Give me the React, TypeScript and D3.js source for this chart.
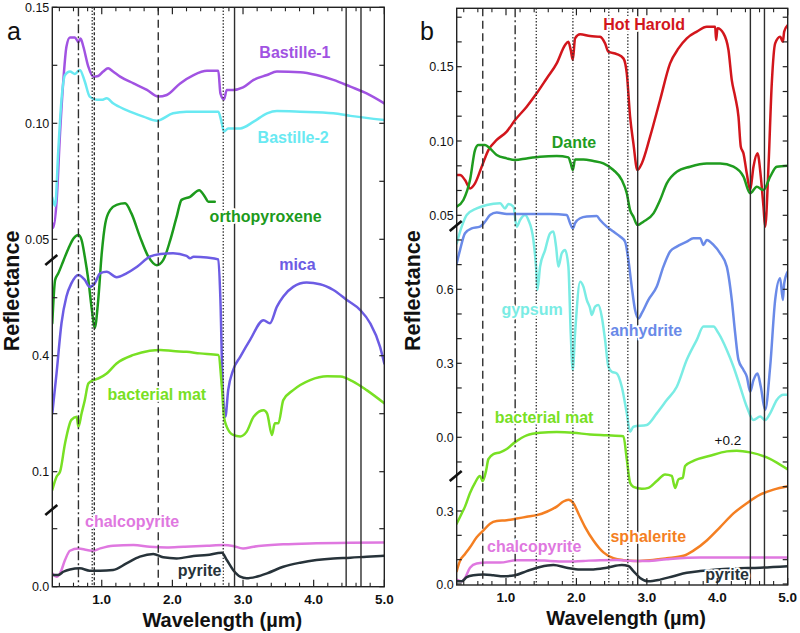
import * as d3 from "d3";

type Pt = [number, number];
type SegKey = "top" | "mid" | "bot";

// ---- axis values -------------------------------------------------------
const WAVE_DOMAIN: [number, number] = [0.3, 5.0];
const xMajorTicks = [1, 2, 3, 4, 5];
const xMinorTicks = [0.4, 0.6, 0.8, 1.2, 1.4, 1.6, 1.8, 2.2, 2.4, 2.6, 2.8, 3.2, 3.4, 3.6, 3.8, 4.2, 4.4, 4.6, 4.8];
const xTickLabels = ["1.0", "2.0", "3.0", "4.0", "5.0"];

// panel a: broken reflectance axis, three stacked segments
const aTopTicks = [0.05, 0.075, 0.1, 0.125, 0.15];
const aTopLabels = [0.05, 0.1, 0.15];
const aMidTicks = [0.1, 0.25, 0.4, 0.55];
const aMidLabels = [0.1, 0.4];
const aBotTicks = [0, 0.05];
const aBotLabels = [0];

// panel b
const bTopTicks = [0.05, 0.0667, 0.0833, 0.1, 0.1167, 0.1333, 0.15, 0.1667, 0.1833];
const bTopLabels = [0.05, 0.1, 0.15];
const bMidTicks = [-0.1, 0, 0.1, 0.2, 0.3, 0.4, 0.5, 0.6, 0.7, 0.8];
const bMidLabels = [0, 0.3, 0.6];
const bBotTicks = [0, 0.1, 0.2, 0.3, 0.4];
const bBotLabels = [0, 0.3];

// absorption features (µm)
const refLinesA: { w: number; kind: string }[] = [
  { w: 0.67, kind: "dashdot" },
  { w: 0.865, kind: "dotted" },
  { w: 0.895, kind: "short" },
  { w: 1.8, kind: "dashed" },
  { w: 2.72, kind: "dotted" },
  { w: 2.88, kind: "solid" },
  { w: 4.46, kind: "solid" },
  { w: 4.67, kind: "solid" },
];
const refLinesB: { w: number; kind: string }[] = [
  { w: 0.67, kind: "dashed" },
  { w: 1.13, kind: "dashdot" },
  { w: 1.43, kind: "dotted" },
  { w: 1.95, kind: "dotted" },
  { w: 2.46, kind: "dotted" },
  { w: 2.73, kind: "dotted" },
  { w: 2.87, kind: "solid" },
  { w: 4.47, kind: "solid" },
  { w: 4.67, kind: "solid" },
];

// ---- spectra: [wavelength µm, reflectance] ------------------------------
const bastille1: Pt[] = [[0.30,0.057],[0.315,0.055],[0.36,0.066],[0.41,0.096],[0.46,0.120],[0.50,0.133],[0.55,0.137],[0.62,0.137],[0.67,0.135],[0.70,0.1366],[0.74,0.133],[0.81,0.1244],[0.88,0.1201],[0.95,0.1204],[1.02,0.1223],[1.09,0.1237],[1.16,0.1223],[1.26,0.1201],[1.45,0.1172],[1.64,0.1144],[1.80,0.1115],[1.92,0.1122],[2.11,0.1172],[2.30,0.1208],[2.49,0.1226],[2.65,0.1226],[2.68,0.1129],[2.73,0.1103],[2.77,0.1144],[2.86,0.1144],[3.00,0.1155],[3.15,0.1187],[3.34,0.1208],[3.48,0.1223],[3.81,0.1220],[4.04,0.1208],[4.28,0.1187],[4.52,0.1158],[4.75,0.1129],[5.00,0.1086]];
const bastille2: Pt[] = [[0.30,0.068],[0.34,0.0644],[0.385,0.0885],[0.43,0.1101],[0.48,0.1208],[0.55,0.1223],[0.62,0.1213],[0.69,0.1230],[0.76,0.1180],[0.83,0.1115],[0.93,0.1101],[1.00,0.1101],[1.07,0.1108],[1.16,0.1086],[1.35,0.1057],[1.59,0.1029],[1.78,0.1011],[2.01,0.1043],[2.20,0.1050],[2.49,0.1050],[2.65,0.1050],[2.70,0.1000],[2.73,0.0964],[2.79,0.0978],[2.96,0.0978],[3.15,0.1007],[3.34,0.1043],[3.48,0.1053],[3.81,0.1050],[4.28,0.1043],[4.52,0.1032],[5.00,0.1014]];
const orthopyroxene: Pt[] = [[0.30,0.484],[0.34,0.596],[0.385,0.613],[0.46,0.647],[0.53,0.678],[0.60,0.703],[0.67,0.712],[0.715,0.699],[0.76,0.656],[0.81,0.596],[0.86,0.519],[0.90,0.471],[0.95,0.544],[1.00,0.665],[1.05,0.742],[1.12,0.777],[1.21,0.790],[1.33,0.794],[1.42,0.768],[1.54,0.708],[1.66,0.656],[1.78,0.634],[1.87,0.647],[1.97,0.699],[2.06,0.759],[2.13,0.803],[2.25,0.811],[2.38,0.828],[2.46,0.811],[2.51,0.798],[2.60,0.798]];
const mica: Pt[] = [[0.30,0.251],[0.36,0.354],[0.43,0.484],[0.50,0.553],[0.57,0.587],[0.67,0.609],[0.76,0.596],[0.83,0.578],[0.90,0.587],[0.975,0.613],[1.07,0.617],[1.21,0.603],[1.35,0.613],[1.50,0.630],[1.68,0.656],[1.83,0.663],[2.01,0.665],[2.20,0.658],[2.25,0.652],[2.30,0.656],[2.49,0.654],[2.65,0.649],[2.68,0.544],[2.71,0.328],[2.75,0.242],[2.79,0.311],[2.86,0.363],[2.96,0.397],[3.10,0.441],[3.29,0.492],[3.38,0.484],[3.48,0.527],[3.57,0.553],[3.71,0.578],[3.90,0.589],[4.09,0.585],[4.28,0.570],[4.47,0.544],[4.66,0.518],[4.80,0.484],[4.94,0.423],[5.00,0.380]];
const bacterialMatA: Pt[] = [[0.30,0.053],[0.36,0.087],[0.41,0.100],[0.48,0.173],[0.57,0.234],[0.645,0.242],[0.67,0.216],[0.715,0.251],[0.76,0.285],[0.81,0.328],[0.88,0.337],[0.95,0.341],[1.07,0.354],[1.21,0.380],[1.45,0.402],[1.68,0.413],[1.83,0.415],[2.01,0.412],[2.20,0.410],[2.39,0.406],[2.65,0.402],[2.70,0.320],[2.73,0.242],[2.77,0.216],[2.86,0.195],[2.96,0.191],[3.05,0.203],[3.15,0.242],[3.29,0.259],[3.34,0.251],[3.41,0.195],[3.45,0.225],[3.50,0.225],[3.57,0.285],[3.71,0.311],[3.95,0.337],[4.19,0.347],[4.38,0.346],[4.56,0.333],[4.75,0.311],[5.00,0.277]];
const chalcopyriteA: Pt[] = [[0.30,0.0115],[0.36,0.0086],[0.41,0.0115],[0.48,0.0230],[0.55,0.0310],[0.67,0.0330],[0.79,0.0316],[0.88,0.0310],[0.98,0.0330],[1.16,0.0353],[1.45,0.0359],[1.68,0.0345],[1.92,0.0339],[2.16,0.0345],[2.49,0.0353],[2.72,0.0359],[2.86,0.0351],[3.00,0.0330],[3.15,0.0345],[3.57,0.0365],[4.04,0.0374],[4.52,0.0379],[5.00,0.0382]];
const pyriteA: Pt[] = [[0.30,0.0101],[0.385,0.0101],[0.456,0.0129],[0.55,0.0149],[0.69,0.0158],[0.83,0.0138],[0.975,0.0138],[1.16,0.0144],[1.35,0.0201],[1.54,0.0259],[1.73,0.0282],[1.87,0.0253],[2.06,0.0244],[2.30,0.0264],[2.49,0.0273],[2.70,0.0293],[2.77,0.0230],[2.86,0.0144],[2.96,0.0086],[3.05,0.0072],[3.19,0.0086],[3.34,0.0115],[3.57,0.0172],[3.81,0.0207],[4.04,0.0230],[4.28,0.0244],[4.52,0.0250],[4.75,0.0259],[5.00,0.0267]];

const hotHarold: Pt[] = [[0.30,0.0771],[0.347,0.0771],[0.418,0.0737],[0.489,0.0681],[0.56,0.0715],[0.655,0.0827],[0.75,0.0939],[0.868,0.1007],[1.01,0.1063],[1.129,0.1141],[1.294,0.1231],[1.436,0.1321],[1.578,0.1421],[1.72,0.1522],[1.839,0.1646],[1.886,0.1668],[1.919,0.1612],[1.948,0.1545],[1.981,0.1691],[2.052,0.1718],[2.194,0.1706],[2.336,0.1702],[2.407,0.1657],[2.454,0.1601],[2.573,0.1585],[2.667,0.1556],[2.715,0.1455],[2.762,0.1164],[2.809,0.0984],[2.866,0.0805],[2.928,0.0849],[3.046,0.1029],[3.188,0.1276],[3.33,0.1522],[3.449,0.1623],[3.567,0.1691],[3.709,0.1736],[3.851,0.1769],[3.97,0.1769],[3.984,0.1679],[4.003,0.1758],[4.088,0.1724],[4.159,0.1612],[4.206,0.1410],[4.254,0.1298],[4.301,0.1164],[4.334,0.0962],[4.372,0.0917],[4.419,0.0782],[4.467,0.0670],[4.514,0.0827],[4.571,0.0917],[4.618,0.0760],[4.656,0.0558],[4.68,0.0423],[4.727,0.0827],[4.774,0.1388],[4.822,0.1657],[4.893,0.1702],[4.931,0.1668],[4.95,0.1736],[5.0,0.1780]];
const dante: Pt[] = [[0.30,0.0558],[0.395,0.0603],[0.489,0.0737],[0.56,0.0939],[0.608,0.0973],[0.702,0.0973],[0.773,0.0950],[0.868,0.0906],[1.01,0.0883],[1.129,0.0872],[1.294,0.0883],[1.484,0.0894],[1.72,0.0899],[1.886,0.0890],[1.919,0.0849],[1.948,0.0805],[1.981,0.0876],[2.099,0.0876],[2.241,0.0865],[2.383,0.0849],[2.525,0.0805],[2.644,0.0737],[2.715,0.0648],[2.762,0.0535],[2.809,0.0491],[2.866,0.0434],[2.951,0.0457],[3.094,0.0513],[3.188,0.0603],[3.283,0.0715],[3.425,0.0793],[3.614,0.0827],[3.851,0.0849],[4.041,0.0849],[4.23,0.0827],[4.372,0.0760],[4.467,0.0648],[4.561,0.0692],[4.656,0.0670],[4.751,0.0760],[4.845,0.0827],[5.0,0.0834]];
const gypsum: Pt[] = [[0.30,0.786],[0.371,0.854],[0.442,0.901],[0.584,0.928],[0.726,0.942],[0.916,0.949],[0.987,0.928],[1.034,0.946],[1.105,0.935],[1.152,0.854],[1.20,0.881],[1.271,0.901],[1.318,0.881],[1.389,0.80],[1.436,0.651],[1.446,0.597],[1.484,0.692],[1.555,0.759],[1.626,0.827],[1.673,0.834],[1.711,0.773],[1.744,0.692],[1.792,0.746],[1.839,0.759],[1.886,0.692],[1.919,0.422],[1.948,0.273],[1.981,0.422],[2.052,0.631],[2.099,0.611],[2.147,0.557],[2.194,0.523],[2.218,0.496],[2.265,0.530],[2.312,0.536],[2.36,0.489],[2.407,0.395],[2.454,0.286],[2.502,0.266],[2.573,0.259],[2.644,0.205],[2.715,0.097],[2.762,0.023],[2.809,0.043],[2.999,0.050],[3.141,0.097],[3.283,0.151],[3.425,0.205],[3.567,0.314],[3.709,0.395],[3.804,0.449],[3.946,0.449],[4.017,0.422],[4.135,0.354],[4.23,0.286],[4.325,0.205],[4.419,0.124],[4.514,0.070],[4.609,0.084],[4.68,0.070],[4.751,0.097],[4.845,0.151],[4.94,0.172],[5.0,0.172]];
const anhydrite: Pt[] = [[0.30,0.705],[0.347,0.759],[0.418,0.827],[0.513,0.847],[0.631,0.854],[0.702,0.874],[0.773,0.901],[0.868,0.911],[1.01,0.905],[1.152,0.905],[1.389,0.905],[1.626,0.905],[1.863,0.901],[1.91,0.868],[1.948,0.847],[1.981,0.868],[2.052,0.888],[2.147,0.895],[2.289,0.897],[2.336,0.881],[2.431,0.854],[2.525,0.834],[2.62,0.814],[2.691,0.793],[2.738,0.719],[2.785,0.611],[2.833,0.516],[2.88,0.482],[2.928,0.503],[3.022,0.557],[3.141,0.611],[3.235,0.692],[3.33,0.753],[3.425,0.773],[3.567,0.793],[3.661,0.807],[3.756,0.807],[3.804,0.780],[3.851,0.800],[3.946,0.780],[4.041,0.746],[4.135,0.692],[4.206,0.557],[4.254,0.422],[4.301,0.314],[4.372,0.273],[4.419,0.246],[4.467,0.185],[4.514,0.232],[4.571,0.259],[4.618,0.205],[4.68,0.111],[4.751,0.286],[4.822,0.557],[4.893,0.645],[4.931,0.557],[4.95,0.624],[5.0,0.672]];
// shown with +0.2 offset
const bacterialMatB: Pt[] = [[0.30,0.248],[0.371,0.290],[0.418,0.318],[0.489,0.374],[0.56,0.416],[0.631,0.444],[0.669,0.423],[0.716,0.464],[0.75,0.513],[0.821,0.534],[0.916,0.541],[1.01,0.555],[1.129,0.583],[1.294,0.611],[1.484,0.622],[1.72,0.625],[1.957,0.622],[2.194,0.614],[2.431,0.611],[2.667,0.607],[2.715,0.513],[2.762,0.416],[2.809,0.399],[2.928,0.391],[3.022,0.395],[3.141,0.423],[3.259,0.450],[3.354,0.444],[3.401,0.395],[3.449,0.430],[3.51,0.437],[3.543,0.485],[3.661,0.506],[3.898,0.527],[4.135,0.545],[4.277,0.548],[4.467,0.541],[4.703,0.520],[4.845,0.499],[5.0,0.471]];
const sphalerite: Pt[] = [[0.30,0.053],[0.347,0.095],[0.418,0.123],[0.489,0.151],[0.584,0.192],[0.679,0.220],[0.773,0.248],[0.868,0.259],[1.01,0.262],[1.152,0.269],[1.294,0.276],[1.436,0.283],[1.578,0.297],[1.72,0.318],[1.815,0.339],[1.886,0.346],[1.957,0.332],[2.028,0.290],[2.123,0.234],[2.241,0.179],[2.383,0.130],[2.525,0.106],[2.667,0.098],[2.857,0.095],[3.046,0.098],[3.283,0.106],[3.52,0.116],[3.661,0.137],[3.851,0.179],[4.041,0.234],[4.23,0.290],[4.419,0.332],[4.608,0.367],[4.798,0.388],[5.0,0.402]];
const chalcopyriteB: Pt[] = [[0.30,0.018],[0.371,0.011],[0.418,0.025],[0.489,0.067],[0.584,0.084],[0.726,0.088],[0.916,0.088],[1.152,0.098],[1.389,0.098],[1.626,0.095],[1.863,0.092],[2.099,0.095],[2.336,0.098],[2.573,0.099],[2.809,0.095],[2.999,0.095],[3.283,0.102],[3.756,0.109],[4.23,0.109],[5.0,0.109]];
const pyriteB: Pt[] = [[0.30,0.011],[0.371,0.011],[0.442,0.028],[0.537,0.036],[0.679,0.039],[0.821,0.036],[0.963,0.032],[1.129,0.036],[1.294,0.053],[1.484,0.070],[1.673,0.078],[1.863,0.067],[2.052,0.060],[2.241,0.060],[2.431,0.067],[2.644,0.078],[2.738,0.074],[2.809,0.053],[2.904,0.025],[3.022,0.011],[3.188,0.018],[3.377,0.032],[3.567,0.046],[3.756,0.053],[3.993,0.060],[4.23,0.064],[4.608,0.067],[5.0,0.073]];

interface Series {
  name: string;
  color: string;
  seg: SegKey;
  pts: Pt[];
  label: { w: number; v: number; seg: SegKey };
}

const seriesA: Series[] = [
  { name: "Bastille-1", color: "#a153e2", seg: "top", pts: bastille1, label: { w: 3.735, v: 0.1281, seg: "top" } },
  { name: "Bastille-2", color: "#69e9f2", seg: "top", pts: bastille2, label: { w: 3.71, v: 0.0915, seg: "top" } },
  { name: "orthopyroxene", color: "#1c9a1c", seg: "mid", pts: orthopyroxene, label: { w: 3.32, v: 0.7457, seg: "mid" } },
  { name: "mica", color: "#6c5ce4", seg: "mid", pts: mica, label: { w: 3.77, v: 0.6216, seg: "mid" } },
  { name: "bacterial mat", color: "#78e024", seg: "mid", pts: bacterialMatA, label: { w: 1.78, v: 0.2854, seg: "mid" } },
  { name: "chalcopyrite", color: "#df78e0", seg: "bot", pts: chalcopyriteA, label: { w: 1.43, v: 0.0515, seg: "bot" } },
  { name: "pyrite", color: "#27333a", seg: "bot", pts: pyriteA, label: { w: 2.385, v: 0.0092, seg: "bot" } },
];

const seriesB: Series[] = [
  { name: "Hot Harold", color: "#d2161c", seg: "top", pts: hotHarold, label: { w: 2.96, v: 0.1747, seg: "top" } },
  { name: "Dante", color: "#1f9c1f", seg: "top", pts: dante, label: { w: 1.966, v: 0.0953, seg: "top" } },
  { name: "gypsum", color: "#7aece4", seg: "mid", pts: gypsum, label: { w: 1.37, v: 0.4957, seg: "mid" } },
  { name: "anhydrite", color: "#6a8ae8", seg: "mid", pts: anhydrite, label: { w: 2.99, v: 0.4106, seg: "mid" } },
  { name: "bacterial mat", color: "#78e024", seg: "bot", pts: bacterialMatB, label: { w: 1.54, v: 0.66, seg: "bot" } },
  { name: "sphalerite", color: "#f47f22", seg: "bot", pts: sphalerite, label: { w: 3.02, v: 0.174, seg: "bot" } },
  { name: "chalcopyrite", color: "#df78e0", seg: "bot", pts: chalcopyriteB, label: { w: 1.40, v: 0.1326, seg: "bot" } },
  { name: "pyrite", color: "#27333a", seg: "bot", pts: pyriteB, label: { w: 4.14, v: 0.0155, seg: "bot" } },
];

const offsetNote = { text: "+0.2", w: 4.15, v: 0.572, seg: "bot" as SegKey };

// ---- layout -------------------------------------------------------------
const FONT = "'Liberation Sans', Arial, Helvetica, sans-serif";

interface SegCfg {
  domain: [number, number];
  range: [number, number];
  ticks: number[];
  labels: number[];
  fmt: string;
}

interface PanelCfg {
  id: string;
  letter: string;
  letterX: number;
  titleX: number;
  left: number;
  right: number;
  top: number;
  bottom: number;
  breaks: number[];
  segs: Record<SegKey, SegCfg>;
  series: Series[];
  refs: { w: number; kind: string }[];
}

const panels: PanelCfg[] = [
  {
    id: "a",
    letter: "a",
    letterX: 7,
    titleX: 19,
    left: 52.3,
    right: 384.3,
    top: 7.3,
    bottom: 586.7,
    breaks: [260, 510],
    segs: {
      top: { domain: [0.05, 0.15], range: [239.3, 7.3], ticks: aTopTicks, labels: aTopLabels, fmt: ".2f" },
      mid: { domain: [0.1, 0.4], range: [471.7, 355.7], ticks: aMidTicks, labels: aMidLabels, fmt: ".1f" },
      bot: { domain: [0, 0.1], range: [586.7, 470.7], ticks: aBotTicks, labels: aBotLabels, fmt: ".1f" },
    },
    series: seriesA,
    refs: refLinesA,
  },
  {
    id: "b",
    letter: "b",
    letterX: 420,
    titleX: 420,
    left: 456.7,
    right: 787.7,
    top: 8.3,
    bottom: 585,
    breaks: [226, 476],
    segs: {
      top: { domain: [0.1, 0.15], range: [141, 66.7], ticks: bTopTicks, labels: bTopLabels, fmt: ".2f" },
      mid: { domain: [0, 0.6], range: [437.3, 289.3], ticks: bMidTicks, labels: bMidLabels, fmt: ".1f" },
      bot: { domain: [0, 0.3], range: [584, 511], ticks: bBotTicks, labels: bBotLabels, fmt: ".1f" },
    },
    series: seriesB,
    refs: refLinesB,
  },
];

const DASH: Record<string, string | undefined> = {
  solid: undefined,
  dashed: "8,4.5",
  dashdot: "9,3,2,3",
  dotted: "1.4,1.8",
  short: "3,2",
};

function Panel({ cfg }: { cfg: PanelCfg }) {
  const x = d3.scaleLinear().domain(WAVE_DOMAIN).range([cfg.left, cfg.right]);
  const ys: Record<SegKey, d3.ScaleLinear<number, number>> = {
    top: d3.scaleLinear().domain(cfg.segs.top.domain).range(cfg.segs.top.range),
    mid: d3.scaleLinear().domain(cfg.segs.mid.domain).range(cfg.segs.mid.range),
    bot: d3.scaleLinear().domain(cfg.segs.bot.domain).range(cfg.segs.bot.range),
  };
  const clipId = `clip-${cfg.id}`;
  const keys: SegKey[] = ["top", "mid", "bot"];
  const midX = (cfg.left + cfg.right) / 2;
  const midY = (cfg.top + cfg.bottom) / 2;

  return (
    <g>
      <defs>
        <clipPath id={clipId}>
          <rect x={cfg.left} y={cfg.top} width={cfg.right - cfg.left} height={cfg.bottom - cfg.top} />
        </clipPath>
      </defs>

      <g clipPath={`url(#${clipId})`}>
        {cfg.series.map((s) => {
          const line = d3
            .line<Pt>()
            .x((d) => x(d[0]))
            .y((d) => ys[s.seg](d[1]))
            .curve(d3.curveMonotoneX);
          return (
            <path
              key={s.name}
              d={line(s.pts) ?? ""}
              fill="none"
              stroke={s.color}
              strokeWidth={2.5}
              strokeLinejoin="round"
              strokeLinecap="round"
            />
          );
        })}

        {cfg.refs.map((r, i) => (
          <line
            key={i}
            x1={x(r.w)}
            x2={x(r.w)}
            y1={cfg.top}
            y2={cfg.bottom}
            stroke="#2e2e2e"
            strokeWidth={r.kind === "dotted" ? 1.3 : 1.4}
            strokeDasharray={DASH[r.kind]}
          />
        ))}
      </g>

      {/* curve labels, with a white halo that masks the guide lines */}
      {cfg.series.map((s) => (
        <text
          key={`t${s.name}`}
          x={x(s.label.w)}
          y={ys[s.label.seg](s.label.v)}
          textAnchor="middle"
          fontFamily={FONT}
          fontWeight="bold"
          fontSize={16}
          fill={s.color}
          stroke="#fff"
          strokeWidth={3.5}
          strokeLinejoin="round"
          paintOrder="stroke"
        >
          {s.name}
        </text>
      ))}
      {cfg.id === "b" && (
        <text
          x={x(offsetNote.w)}
          y={ys[offsetNote.seg](offsetNote.v)}
          textAnchor="middle"
          fontFamily={FONT}
          fontSize={13.5}
          fill="#111"
        >
          {offsetNote.text}
        </text>
      )}

      {/* frame */}
      <rect
        x={cfg.left}
        y={cfg.top}
        width={cfg.right - cfg.left}
        height={cfg.bottom - cfg.top}
        fill="none"
        stroke="#222"
        strokeWidth={1.4}
      />

      {/* x ticks, inward, top and bottom */}
      {xMajorTicks.map((t) => (
        <g key={`M${t}`} stroke="#222" strokeWidth={1.2}>
          <line x1={x(t)} x2={x(t)} y1={cfg.bottom} y2={cfg.bottom - 7} />
          <line x1={x(t)} x2={x(t)} y1={cfg.top} y2={cfg.top + 7} />
        </g>
      ))}
      {xMinorTicks.map((t) => (
        <g key={`m${t}`} stroke="#222" strokeWidth={1.1}>
          <line x1={x(t)} x2={x(t)} y1={cfg.bottom} y2={cfg.bottom - 4} />
          <line x1={x(t)} x2={x(t)} y1={cfg.top} y2={cfg.top + 4} />
        </g>
      ))}
      {xMajorTicks.map((t, i) => (
        <text
          key={`L${t}`}
          x={x(t)}
          y={cfg.bottom + 17}
          textAnchor="middle"
          fontFamily={FONT}
          fontWeight="bold"
          fontSize={13.5}
          fill="#111"
        >
          {xTickLabels[i]}
        </text>
      ))}

      {/* y ticks per segment */}
      {keys.map((k) => {
        const seg = cfg.segs[k];
        const y = ys[k];
        const fmt = d3.format(seg.fmt);
        return (
          <g key={k}>
            {seg.ticks.map((t) => (
              <g key={t} stroke="#222" strokeWidth={1.2}>
                <line x1={cfg.left} x2={cfg.left + 5} y1={y(t)} y2={y(t)} />
                <line x1={cfg.right} x2={cfg.right - 5} y1={y(t)} y2={y(t)} />
              </g>
            ))}
            {seg.labels.map((t) => (
              <text
                key={`l${t}`}
                x={cfg.left - 3}
                y={y(t)}
                dy="0.36em"
                textAnchor="end"
                fontFamily={FONT}
                fontSize={12.5}
                fill="#111"
              >
                {fmt(t)}
              </text>
            ))}
          </g>
        );
      })}

      {/* axis breaks */}
      {cfg.breaks.map((b) => (
        <line
          key={b}
          x1={cfg.left - 7}
          y1={b + 5}
          x2={cfg.left + 5}
          y2={b - 5}
          stroke="#111"
          strokeWidth={2.6}
        />
      ))}

      {/* panel letter + titles */}
      <text x={cfg.letterX} y={40} fontFamily={FONT} fontSize={25} fill="#111">
        {cfg.letter}
      </text>
      <text
        transform={`translate(${cfg.titleX},${midY - 6}) rotate(-90)`}
        textAnchor="middle"
        fontFamily={FONT}
        fontWeight="bold"
        fontSize={21.5}
        fill="#111"
      >
        Reflectance
      </text>
      <text
        x={midX + 4}
        y={cfg.bottom + 40}
        textAnchor="middle"
        fontFamily={FONT}
        fontWeight="bold"
        fontSize={20}
        fill="#111"
      >
        Wavelength (µm)
      </text>
    </g>
  );
}

export default function App() {
  return (
    <svg
      width={800}
      height={633}
      viewBox="0 0 800 633"
      style={{ position: "absolute", left: 0, top: 0, background: "#fff" }}
    >
      {panels.map((p) => (
        <Panel key={p.id} cfg={p} />
      ))}
    </svg>
  );
}
